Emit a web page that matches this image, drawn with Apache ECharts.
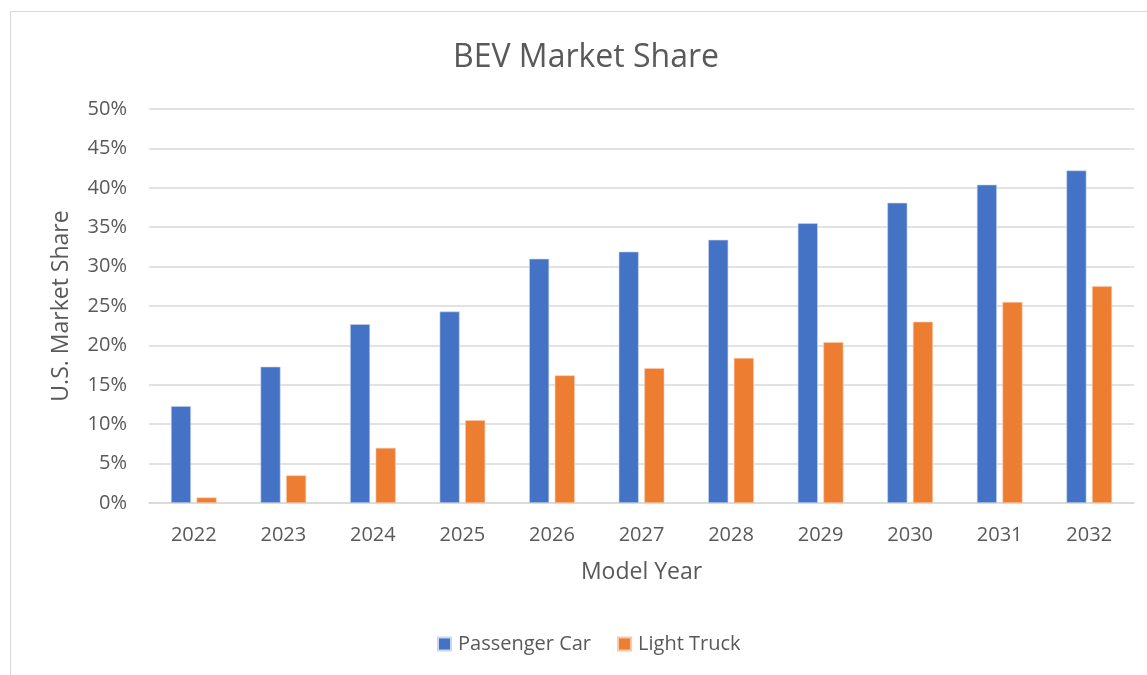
<!DOCTYPE html>
<html>
<head>
<meta charset="utf-8">
<script src="https://cdn.jsdelivr.net/npm/echarts@6/dist/echarts.min.js"></script>
<style>
  html, body { margin: 0; padding: 0; background: #fff; }
  #chart { width: 1147px; height: 675px; }
</style>
</head>
<body>
<div id="chart"></div>
<script>
// BEV market share by model year
const years = ['2022', '2023', '2024', '2025', '2026', '2027', '2028', '2029', '2030', '2031', '2032'];
const passengerCar = [12.3, 17.3, 22.7, 24.3, 31.0, 31.9, 33.4, 35.5, 38.1, 40.4, 42.2];
const lightTruck = [0.7, 3.5, 7.0, 10.5, 16.2, 17.1, 18.4, 20.4, 23.0, 25.5, 27.5];

const chart = echarts.init(document.getElementById('chart'));
const font = '"Open Sans", "Noto Sans", sans-serif';

const option = {
	backgroundColor: '#fff',
	textStyle: { fontFamily: font },
	graphic: [{
		type: 'rect',
		shape: { x: 10.5, y: 11.5, width: 1150, height: 700 },
		style: { fill: 'none', stroke: '#d9d9d9', lineWidth: 1 },
		silent: true
	}],
	title: {
		text: 'BEV Market Share',
		left: 448,
		top: 37,
		textStyle: { fontSize: 32, fontWeight: 'normal', color: '#595959', fontFamily: font }
	},
	legend: {
		bottom: 16,
		left: 432,
		itemWidth: 13,
		itemHeight: 13,
		itemGap: 26,
		icon: 'rect',
		textStyle: { fontSize: 20, color: '#595959', fontFamily: font, padding: [0, 0, 0, 2] },
		data: ['Passenger Car', 'Light Truck']
	},
	grid: { left: 149, right: 13, top: 109, bottom: 172 },
	xAxis: {
		type: 'category',
		data: years,
		name: 'Model Year',
		nameLocation: 'middle',
		nameGap: 58,
		nameTextStyle: { fontSize: 23, color: '#595959' },
		axisLine: { lineStyle: { color: '#d9d9d9', width: 1.5 } },
		axisTick: { show: false },
		axisLabel: { fontSize: 20, color: '#595959', margin: 22 }
	},
	yAxis: {
		type: 'value',
		min: 0,
		max: 50,
		interval: 5,
		name: 'U.S. Market Share',
		nameLocation: 'middle',
		nameGap: 76,
		nameTextStyle: { fontSize: 23, color: '#595959' },
		axisLine: { show: false },
		axisTick: { show: false },
		axisLabel: { fontSize: 20, color: '#595959', margin: 22, formatter: '{value}%' },
		splitLine: { lineStyle: { color: '#d9d9d9', width: 1.5 } }
	},
	series: [
		{
			name: 'Passenger Car',
			type: 'bar',
			data: passengerCar,
			barWidth: 20,
			barGap: '28%',
			itemStyle: { color: '#4472C4', borderColor: '#c9d6ee', borderWidth: 0.6 }
		},
		{
			name: 'Light Truck',
			type: 'bar',
			data: lightTruck,
			barWidth: 20,
			itemStyle: { color: '#ED7D31', borderColor: '#f8c9a9', borderWidth: 0.6 }
		}
	]
};
chart.setOption(option);
</script>
</body>
</html>
